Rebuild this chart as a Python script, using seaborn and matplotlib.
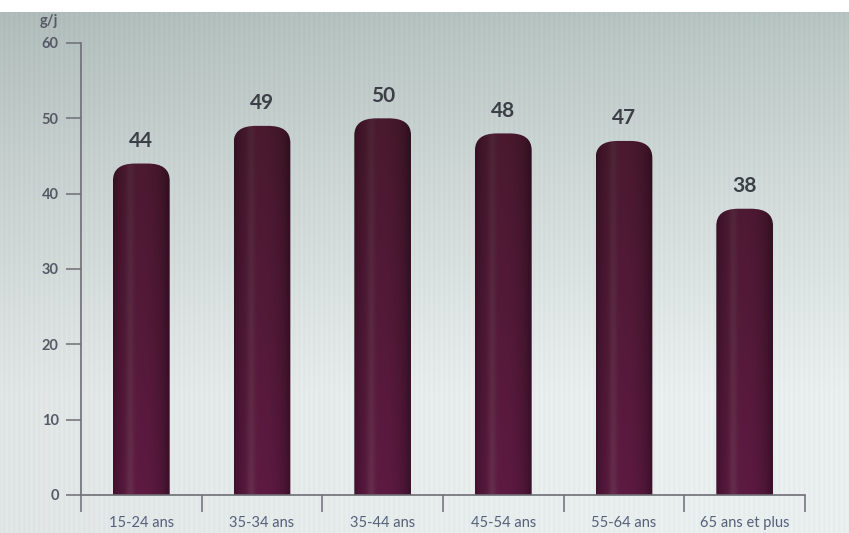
import numpy as np
import matplotlib
matplotlib.use("Agg")
import matplotlib.pyplot as plt
import seaborn as sns
from matplotlib.patches import FancyBboxPatch
from matplotlib.colors import to_rgb

# Consommation moyenne par tranche d'âge (g/j)
categories = ["15-24 ans", "35-34 ans", "35-44 ans", "45-54 ans", "55-64 ans", "65 ans et plus"]
values = [44, 49, 50, 48, 47, 38]
y_ticks = [0, 10, 20, 30, 40, 50, 60]
unit_label = "g/j"

sns.set_theme(style="white")
plt.rcParams["font.family"] = ["Lato", "DejaVu Sans"]

W, H = 849, 533
fig = plt.figure(figsize=(W / 100, H / 100), dpi=100)

# Soft backdrop: greyish-green at the top fading to pale at the bottom
bg = fig.add_axes([0, 0, 1, 1], zorder=-10)
ty = np.linspace(0, 1, H)[:, None, None]
tx = np.linspace(0, 1, W)[None, :, None]
top_c = np.array(to_rgb("#b2c0bd"))
bot_c = np.array(to_rgb("#e9efee"))
t = np.clip(ty * 1.35, 0, 1) ** 0.8
img = top_c * (1 - t) + bot_c * t
img = img * (1 - 0.04 * (1 - tx) ** 2)
stripes = 0.01 * np.sin(np.arange(W) * 2 * np.pi / 5.0)[None, :, None]
img = np.clip(img + stripes, 0, 1)
img[:12] = 1.0
bg.imshow(img, aspect="auto", extent=(0, 1, 0, 1), interpolation="bilinear")
bg.set_axis_off()

ax = fig.add_axes([81 / W, 38 / H, (805 - 81) / W, (495 - 43) / H])
ax.patch.set_alpha(0)

sns.barplot(x=categories, y=values, ax=ax, width=0.47, color="#561a3a",
            saturation=1, errorbar=None)

# Cylinder shading for each bar, clipped to a rounded-top outline
bottom_col = np.array(to_rgb("#5e1a42"))
top_col = np.array(to_rgb("#45192a"))
hi_col = np.array(to_rgb("#9a6a7e"))
x_px_per_unit = (805 - 81) / 6.0
y_px_per_unit = (495 - 43) / 60.0
for p in ax.patches:
    x0, w, h = p.get_x(), p.get_width(), p.get_height()
    p.set_visible(False)
    nx, ny = 80, 240
    u = np.linspace(0, 1, nx)[None, :, None]
    v = (np.linspace(0, h, ny) / 60.0)[:, None, None]
    base = bottom_col * (1 - v) + top_col * v
    edge = 0.66 + 0.34 * np.sin(np.pi * np.clip(u * 1.05, 0, 1)) ** 0.6
    hl = 0.32 * np.exp(-((u - 0.3) / 0.07) ** 2)
    arr = base * edge * (1 - hl) + hi_col * hl * (0.8 - 0.3 * v)
    arr = np.clip(arr, 0, 1)
    rx = 22 / x_px_per_unit
    ry = 17 / y_px_per_unit
    clip = FancyBboxPatch((x0, -5), w, h + 5,
                          boxstyle=f"round,pad=0,rounding_size={rx}",
                          mutation_aspect=ry / rx, transform=ax.transData,
                          facecolor="none", edgecolor="none")
    ax.add_patch(clip)
    im = ax.imshow(arr, extent=(x0, x0 + w, 0, h), origin="lower",
                   aspect="auto", interpolation="bilinear", zorder=2)
    im.set_clip_path(clip)

ax.bar_label(ax.containers[0], labels=[str(v) for v in values], padding=9,
             fontsize=15, fontweight="bold", color="#3c3f48")

ax.set_xlim(-0.5, len(categories) - 0.5)
ax.set_ylim(0, 60)
ax.set_xlabel("")
ax.set_ylabel("")

ax.set_yticks(y_ticks)
ax.set_yticklabels([str(t) for t in y_ticks])
ax.tick_params(axis="y", direction="out", length=11, width=1.1, pad=5,
               color="#6e6e74", labelsize=10.5, labelcolor="#555a66", left=True)
for lab in ax.get_yticklabels():
    lab.set_fontweight("bold")

ax.set_xticks(range(len(categories)))
ax.set_xticklabels(categories)
ax.set_xticks(np.arange(-0.5, len(categories), 1.0), minor=True)
ax.tick_params(axis="x", which="major", length=0, pad=15, labelsize=10.5,
               labelcolor="#56607a")
ax.tick_params(axis="x", which="minor", direction="out", length=12, width=1.1,
               color="#6e6e74", bottom=True)

for side in ("top", "right"):
    ax.spines[side].set_visible(False)
for side in ("left", "bottom"):
    ax.spines[side].set_color("#6e6e74")
    ax.spines[side].set_linewidth(1.2)

fig.text(49 / W, 1 - 21 / H, unit_label, ha="center", va="center",
         fontsize=10.5, fontweight="bold", color="#555a66")

fig.savefig("out.png", dpi=100)
